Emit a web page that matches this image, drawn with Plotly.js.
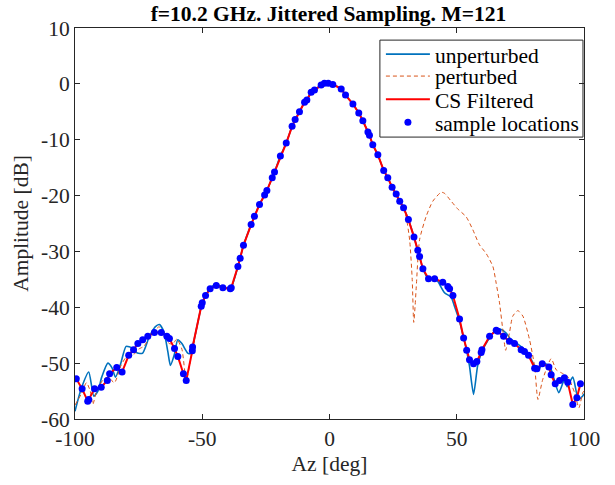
<!DOCTYPE html>
<html>
<head>
<meta charset="utf-8">
<script src="https://cdn.plot.ly/plotly-3.0.1.min.js"></script>
<style>html,body{margin:0;padding:0;background:#fff;}#chart{width:615px;height:485px;}</style>
</head>
<body>
<div id="chart"></div>
<script>
// Sample locations (also the CS filtered reconstruction nodes)
var sampleX = [-99.5,-97.2,-95.0,-94.6,-92.3,-89.7,-87.3,-86.4,-83.6,-81.5,-78.9,-77.0,-75.3,-73.4,-71.4,-68.8,-66.1,-63.9,-62.9,-60.9,-59.6,-57.4,-56.3,-53.9,-53.8,-50.4,-50.0,-48.7,-46.9,-44.5,-41.9,-39.0,-38.6,-36.0,-35.1,-33.8,-30.8,-29.5,-27.5,-25.5,-24.6,-22.5,-21.6,-19.3,-17.0,-14.7,-13.5,-11.8,-9.8,-8.9,-7.2,-5.9,-3.3,-2.0,-0.5,1.3,4.6,6.3,9.2,11.5,13.1,15.1,15.7,17.0,19.0,21.3,22.9,24.6,26.2,27.6,29.1,31.0,33.2,34.7,35.4,36.7,38.9,41.3,44.5,46.5,47.2,48.5,51.1,52.7,53.9,55.0,56.6,57.9,59.6,59.9,62.9,65.5,66.1,68.4,70.7,72.7,75.3,76.6,78.2,80.6,81.5,83.6,86.2,87.1,88.7,90.4,92.3,93.6,95.6,97.2,98.6];
var sampleY = [-52.8,-54.6,-56.8,-56.5,-54.6,-54.3,-53.1,-51.9,-50.8,-51.6,-48.6,-47.6,-46.5,-45.8,-45.2,-44.5,-44.5,-45.2,-45.6,-47.4,-48.8,-51.9,-53.1,-47.8,-47.1,-39.8,-39.2,-37.9,-36.7,-36.1,-36.5,-36.7,-36.5,-32.7,-31.2,-28.9,-25.2,-23.7,-21.6,-19.9,-19.1,-16.8,-15.8,-12.9,-10.6,-7.6,-6.4,-5.0,-3.3,-2.9,-1.5,-1.1,-0.2,0.1,0.1,-0.1,-0.9,-2.0,-3.6,-5.2,-6.6,-8.6,-9.2,-10.9,-12.7,-15.5,-16.8,-18.5,-19.7,-21.0,-22.2,-24.3,-27.4,-29.8,-30.9,-33.1,-34.9,-34.9,-35.5,-36.3,-36.7,-37.9,-42.1,-45.5,-47.7,-49.4,-50.1,-49.7,-48.1,-47.6,-45.2,-44.1,-44.3,-45.2,-46.1,-46.5,-47.6,-47.9,-48.6,-50.9,-51.0,-50.1,-50.7,-52.1,-53.7,-53.1,-52.6,-53.4,-57.4,-56.2,-53.7];

// Unperturbed pattern
var unpertX = [-100,-97.5,-94.6,-92.6,-91.0,-89.5,-87.1,-85.5,-84.1,-82.0,-79.9,-77.5,-75.5,-73.4,-71.0,-68.5,-66.8,-65.0,-63.5,-62.5,-61.0,-59.6,-58.0,-55.7,-54.5,-53.8,-50.4,-50.0,-48.7,-46.9,-44.5,-41.9,-39.0,-38.6,-36.0,-35.1,-33.8,-30.8,-29.5,-27.5,-25.5,-24.6,-22.5,-21.6,-19.3,-17.0,-14.7,-13.5,-11.8,-9.8,-8.9,-7.2,-5.9,-3.3,-2.0,-0.5,1.3,4.6,6.3,9.2,11.5,13.1,15.1,15.7,17.0,19.0,21.3,22.9,24.6,26.2,27.6,29.1,31.0,33.2,34.7,35.4,36.7,38.9,41.3,42.2,45.2,47.8,49.1,51.1,52.9,54.0,55.0,56.6,58.2,59.6,62.9,65.5,67.0,69.4,71.0,73.4,76.0,78.2,80.6,81.8,83.8,86.4,88.0,90.1,92.3,93.4,95.6,97.8,99.5,100];
var unpertY = [-58.6,-54.5,-51.6,-55.9,-55.0,-52.5,-50.0,-50.8,-52.5,-50.0,-47.0,-47.3,-48.2,-48.2,-45.5,-43.5,-43.1,-44.5,-48.0,-50.4,-48.5,-45.8,-46.5,-48.2,-48.3,-47.1,-39.9,-39.3,-38.0,-36.5,-35.9,-36.4,-36.6,-36.5,-32.8,-31.2,-28.9,-25.2,-23.7,-21.6,-19.9,-19.1,-16.8,-15.8,-12.9,-10.6,-7.6,-6.4,-5.0,-3.3,-2.9,-1.5,-1.1,-0.2,0.1,0.1,-0.1,-0.9,-2.0,-3.6,-5.2,-6.6,-8.6,-9.2,-10.9,-12.7,-15.5,-16.8,-18.5,-19.7,-21.0,-22.2,-24.3,-27.4,-29.8,-30.9,-33.1,-34.9,-34.9,-35.1,-37.4,-38.2,-39.8,-42.5,-45.8,-48.0,-50.5,-55.6,-50.5,-48.3,-45.4,-44.0,-43.9,-44.6,-45.6,-46.4,-47.3,-48.4,-50.6,-51.4,-50.1,-50.4,-52.5,-55.3,-53.0,-54.2,-52.5,-56.5,-55.9,-55.5];

// Perturbed pattern
var pertX = [-100,-97.5,-95.5,-94.0,-93.0,-91.5,-89.0,-87.0,-84.5,-82.0,-80.0,-77.0,-75.0,-73.0,-70.0,-67.0,-65.0,-63.0,-61.5,-60.0,-58.0,-56.3,-54.0,-52.5,-50.4,-50.0,-48.7,-46.9,-44.5,-41.9,-39.0,-38.6,-36.0,-35.1,-33.8,-30.8,-29.5,-27.5,-25.5,-24.6,-22.5,-21.6,-19.3,-17.0,-14.7,-13.5,-11.8,-9.8,-8.9,-7.2,-5.9,-3.3,-2.0,-0.5,1.3,4.6,6.3,9.2,11.5,13.1,15.1,15.7,17.0,19.0,21.3,22.9,24.6,26.2,27.6,29.1,30.2,31.5,32.5,33.1,33.6,34.1,35.4,38.0,40.6,43.9,45.2,47.8,50.4,53.7,56.3,58.9,61.6,64.2,65.5,66.8,68.4,69.2,70.7,72.0,74.0,76.0,78.6,80.6,81.9,83.8,87.1,89.1,91.4,93.6,96.3,98.0,99.5,100];
var pertY = [-57.5,-55.5,-53.5,-55.0,-57.4,-55.0,-53.0,-52.5,-53.5,-50.5,-49.0,-48.5,-47.5,-47.0,-45.0,-43.5,-44.5,-46.5,-46.5,-45.7,-47.5,-53.0,-48.0,-44.5,-39.9,-39.3,-38.0,-36.8,-36.0,-36.4,-36.6,-36.5,-32.8,-31.2,-28.9,-25.2,-23.7,-21.6,-19.9,-19.1,-16.8,-15.8,-12.9,-10.6,-7.6,-6.4,-5.0,-3.3,-2.9,-1.5,-1.1,-0.2,0.1,0.1,-0.1,-0.9,-2.0,-3.6,-5.2,-6.6,-8.6,-9.2,-10.9,-12.7,-15.5,-16.8,-18.5,-19.7,-21.0,-22.2,-24.0,-28.0,-35.0,-42.7,-40.0,-36.3,-27.9,-23.7,-21.0,-19.4,-19.6,-21.0,-22.4,-23.8,-26.1,-28.8,-30.4,-32.7,-35.7,-39.2,-45.2,-47.7,-44.6,-41.6,-40.6,-41.6,-45.8,-50.6,-56.5,-52.9,-49.2,-51.2,-51.8,-52.4,-55.3,-58.0,-55.3,-55.0];

var xTicks = [-100,-50,0,50,100];
var yTicks = [10,0,-10,-20,-30,-40,-50,-60];
var legendRowsY = [0.933, 0.877, 0.818, 0.759];

var serif = 'Liberation Serif, Times New Roman, serif';
var FS = 21.5;

var traces = [
  {x: unpertX, y: unpertY, type: 'scatter', mode: 'lines', name: 'unperturbed', legend: 'legend',
   line: {color: '#0072BD', width: 1.6, shape: 'spline', smoothing: 0.6}},
  {x: pertX, y: pertY, type: 'scatter', mode: 'lines', name: 'perturbed', legend: 'legend2',
   line: {color: '#D95319', width: 1, dash: '4px,3px', shape: 'spline', smoothing: 0.6}},
  {x: sampleX, y: sampleY, type: 'scatter', mode: 'lines', name: 'CS Filtered', legend: 'legend3',
   line: {color: '#FF0000', width: 2}},
  {x: sampleX, y: sampleY, type: 'scatter', mode: 'markers', name: 'sample locations', legend: 'legend4',
   marker: {color: '#0000FF', size: 7, symbol: 'circle'}}
];

var axisCommon = {
  showline: true, linecolor: '#262626', linewidth: 1, mirror: 'ticks',
  ticks: 'inside', ticklen: 5, tickcolor: '#262626', showgrid: false, zeroline: false,
  tickfont: {family: serif, size: FS, color: '#262626'}
};

function leg(yv) {
  return {x: 0.601, xanchor: 'left', y: yv, yanchor: 'middle', bgcolor: 'rgba(0,0,0,0)',
          borderwidth: 0, font: {family: serif, size: FS, color: '#000000'}, itemwidth: 44};
}

var layout = {
  width: 615, height: 485,
  margin: {l: 75, r: 31, t: 28, b: 66},
  paper_bgcolor: '#ffffff', plot_bgcolor: '#ffffff',
  title: {text: '<b>f=10.2 GHz. Jittered Sampling. M=121</b>', x: 0.534, xanchor: 'center', y: 0.972, yanchor: 'middle',
          font: {family: serif, size: FS, color: '#000000'}},
  xaxis: Object.assign({}, axisCommon, {range: [-100, 100], tickvals: xTicks, ticktext: xTicks.map(String),
          title: {text: 'Az [deg]', font: {family: serif, size: FS, color: '#262626'}, standoff: 6}}),
  yaxis: Object.assign({}, axisCommon, {range: [-60, 10], tickvals: yTicks, ticktext: yTicks.map(String),
          title: {text: 'Amplitude [dB]', font: {family: serif, size: FS, color: '#262626'}, standoff: 6}}),
  showlegend: true,
  legend: leg(legendRowsY[0]),
  legend2: leg(legendRowsY[1]),
  legend3: leg(legendRowsY[2]),
  legend4: leg(legendRowsY[3]),
  shapes: [{type: 'rect', xref: 'paper', yref: 'paper', x0: 0.599, x1: 0.998, y0: 0.721, y1: 0.969,
            line: {color: '#262626', width: 1}, fillcolor: 'rgba(0,0,0,0)', layer: 'above'}]
};

Plotly.newPlot('chart', traces, layout, {displayModeBar: false, staticPlot: true});
</script>
</body>
</html>
